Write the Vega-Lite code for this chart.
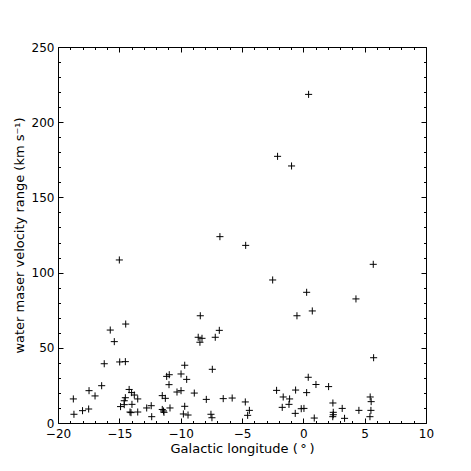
{
  "$schema": "https://vega.github.io/schema/vega-lite/v6.json",
  "width": 368,
  "height": 376,
  "autosize": "none",
  "padding": {"left": 58, "top": 47, "right": 45, "bottom": 48},
  "background": "white",
  "config": {
    "view": {"stroke": "#000", "strokeWidth": 1},
    "font": "DejaVu Sans",
    "axis": {
      "grid": false,
      "domain": false,
      "labelFlush": false,
      "labelOverlap": false,
      "tickColor": "#000",
      "tickWidth": 1,
      "labelColor": "#000",
      "titleColor": "#000",
      "labelFont": "DejaVu Sans",
      "titleFont": "DejaVu Sans",
      "labelFontSize": 12,
      "titleFontSize": 13,
      "titleFontWeight": "normal"
    }
  },
  "data": {
    "values": [
      {"l": -15.0, "v": 108.4}, {"l": -6.8, "v": 123.9}, {"l": -4.7, "v": 118.1}, {"l": -2.1, "v": 177.3},
      {"l": -0.96, "v": 170.9}, {"l": 0.43, "v": 218.5}, {"l": -2.5, "v": 95.1}, {"l": 0.27, "v": 86.9},
      {"l": 5.7, "v": 105.5}, {"l": 4.29, "v": 82.5},
      {"l": -18.75, "v": 16.0}, {"l": -18.7, "v": 5.8}, {"l": -18.0, "v": 8.2}, {"l": -17.5, "v": 9.3},
      {"l": -17.47, "v": 21.5}, {"l": -16.98, "v": 18.0}, {"l": -16.44, "v": 24.8}, {"l": -16.23, "v": 39.4},
      {"l": -15.74, "v": 61.8}, {"l": -15.41, "v": 54.1}, {"l": -14.48, "v": 65.8}, {"l": -14.97, "v": 40.6},
      {"l": -14.51, "v": 40.8}, {"l": -14.2, "v": 22.3}, {"l": -14.0, "v": 20.2}, {"l": -13.78, "v": 18.6},
      {"l": -13.5, "v": 16.0}, {"l": -14.51, "v": 16.8}, {"l": -14.6, "v": 14.8}, {"l": -14.9, "v": 10.9},
      {"l": -14.6, "v": 12.2}, {"l": -13.97, "v": 12.4}, {"l": -14.13, "v": 7.3}, {"l": -14.05, "v": 6.9},
      {"l": -13.5, "v": 7.3}, {"l": -12.77, "v": 10.0}, {"l": -12.4, "v": 11.5}, {"l": -12.36, "v": 4.2},
      {"l": -11.4, "v": 8.0}, {"l": -11.36, "v": 7.1}, {"l": -11.5, "v": 9.0}, {"l": -11.5, "v": 18.2},
      {"l": -11.25, "v": 16.4}, {"l": -10.87, "v": 10.0}, {"l": -11.14, "v": 31.0}, {"l": -10.93, "v": 32.1},
      {"l": -10.95, "v": 25.5}, {"l": -10.3, "v": 20.6}, {"l": -9.97, "v": 21.5}, {"l": -9.97, "v": 32.6},
      {"l": -9.67, "v": 38.4}, {"l": -9.51, "v": 29.0}, {"l": -9.78, "v": 6.0}, {"l": -9.67, "v": 11.1},
      {"l": -9.4, "v": 5.3},
      {"l": -8.4, "v": 71.3}, {"l": -8.57, "v": 57.0}, {"l": -8.26, "v": 56.3}, {"l": -8.43, "v": 53.7},
      {"l": -6.85, "v": 61.6}, {"l": -7.18, "v": 57.0}, {"l": -7.42, "v": 35.7}, {"l": -8.89, "v": 19.9},
      {"l": -7.91, "v": 15.7}, {"l": -7.53, "v": 5.8}, {"l": -7.45, "v": 3.5}, {"l": -6.53, "v": 16.2},
      {"l": -5.8, "v": 16.6}, {"l": -4.73, "v": 14.0}, {"l": -4.4, "v": 8.4}, {"l": -4.54, "v": 5.1},
      {"l": -2.18, "v": 21.7}, {"l": -1.64, "v": 17.3}, {"l": -1.12, "v": 16.0}, {"l": -1.17, "v": 12.4},
      {"l": -1.72, "v": 10.4}, {"l": -0.63, "v": 21.9}, {"l": -0.52, "v": 71.3}, {"l": -0.66, "v": 6.4},
      {"l": -0.17, "v": 9.5}, {"l": 0.05, "v": 9.7}, {"l": 0.27, "v": 20.2}, {"l": 0.4, "v": 30.4},
      {"l": 0.73, "v": 74.5}, {"l": 5.73, "v": 43.4}, {"l": 1.03, "v": 25.6}, {"l": 2.06, "v": 24.2},
      {"l": 2.41, "v": 13.3}, {"l": 2.44, "v": 7.1}, {"l": 2.44, "v": 5.5}, {"l": 2.4, "v": 4.2},
      {"l": 3.17, "v": 9.7}, {"l": 3.36, "v": 3.1}, {"l": 0.89, "v": 3.3}, {"l": 4.53, "v": 8.4},
      {"l": 5.45, "v": 17.3}, {"l": 5.53, "v": 14.2}, {"l": 5.51, "v": 8.4}, {"l": 5.43, "v": 4.2}
    ]
  },
  "layer": [
    {
      "mark": {"type": "point", "shape": "M-1,0L1,0M0,-1L0,1", "filled": false, "stroke": "#000", "strokeWidth": 1, "size": 50, "opacity": 1},
      "encoding": {
        "x": {"field": "l", "type": "quantitative", "scale": {"domain": [-20, 10], "nice": false, "zero": false},
              "axis": {"orient": "bottom", "values": [-20, -15, -10, -5, 0, 5, 10], "ticks": false, "labelPadding": 5, "titlePadding": 3, "title": "Galactic longitude (\u2009°\u2009)"}},
        "y": {"field": "v", "type": "quantitative", "scale": {"domain": [0, 250], "nice": false, "zero": false},
              "axis": {"orient": "left", "values": [0, 50, 100, 150, 200, 250], "ticks": false, "labelPadding": 4, "titlePadding": 5, "title": "water maser velocity range (km s⁻¹)"}}
      }
    },
    {
      "mark": {"type": "point", "opacity": 0},
      "encoding": {
        "x": {"field": "l", "type": "quantitative", "axis": {"orient": "bottom", "values": [-20, -15, -10, -5, 0, 5, 10], "labels": false, "tickSize": -5, "title": null}},
        "y": {"field": "v", "type": "quantitative", "axis": {"orient": "left", "values": [0, 50, 100, 150, 200, 250], "labels": false, "tickSize": -5, "title": null}}
      }
    },
    {
      "mark": {"type": "point", "opacity": 0},
      "encoding": {
        "x": {"field": "l", "type": "quantitative", "axis": {"orient": "top", "values": [-20, -15, -10, -5, 0, 5, 10], "labels": false, "tickSize": -5, "title": null}},
        "y": {"field": "v", "type": "quantitative", "axis": {"orient": "right", "values": [0, 50, 100, 150, 200, 250], "labels": false, "tickSize": -5, "title": null}}
      }
    },
    {
      "mark": {"type": "point", "opacity": 0},
      "encoding": {
        "x": {"field": "l", "type": "quantitative", "axis": {"orient": "bottom", "values": [-19, -18, -17, -16, -14, -13, -12, -11, -9, -8, -7, -6, -4, -3, -2, -1, 1, 2, 3, 4, 6, 7, 8, 9], "labels": false, "tickSize": -2.5, "title": null}},
        "y": {"field": "v", "type": "quantitative", "axis": {"orient": "left", "values": [10, 20, 30, 40, 60, 70, 80, 90, 110, 120, 130, 140, 160, 170, 180, 190, 210, 220, 230, 240], "labels": false, "tickSize": -2.5, "title": null}}
      }
    },
    {
      "mark": {"type": "point", "opacity": 0},
      "encoding": {
        "x": {"field": "l", "type": "quantitative", "axis": {"orient": "top", "values": [-19, -18, -17, -16, -14, -13, -12, -11, -9, -8, -7, -6, -4, -3, -2, -1, 1, 2, 3, 4, 6, 7, 8, 9], "labels": false, "tickSize": -2.5, "title": null}},
        "y": {"field": "v", "type": "quantitative", "axis": {"orient": "right", "values": [10, 20, 30, 40, 60, 70, 80, 90, 110, 120, 130, 140, 160, 170, 180, 190, 210, 220, 230, 240], "labels": false, "tickSize": -2.5, "title": null}}
      }
    }
  ],
  "resolve": {"axis": {"x": "independent", "y": "independent"}}
}
